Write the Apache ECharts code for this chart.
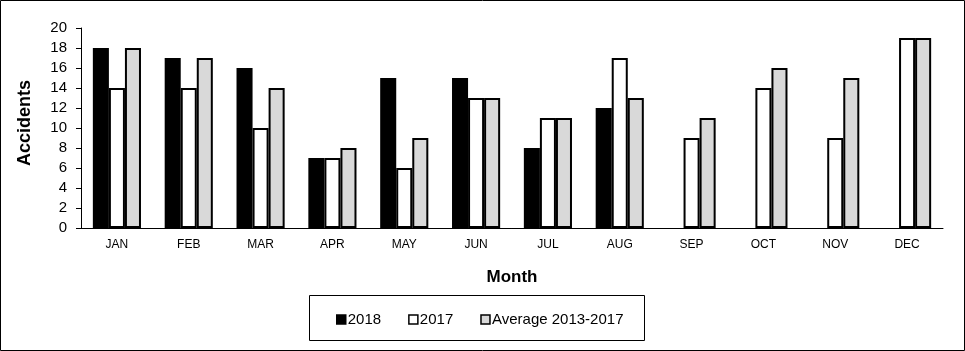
<!DOCTYPE html>
<html>
<head>
<meta charset="utf-8">
<script src="https://cdn.jsdelivr.net/npm/echarts@6/dist/echarts.min.js"></script>
<style>
  html, body { margin: 0; padding: 0; background: #fff; }
  #chart { width: 965px; height: 351px; }
</style>
</head>
<body>
<div id="chart"></div>
<script>
const months = ['JAN', 'FEB', 'MAR', 'APR', 'MAY', 'JUN', 'JUL', 'AUG', 'SEP', 'OCT', 'NOV', 'DEC']
const data2018 = [18, 17, 16, 7, 15, 15, 8, 12, '-', '-', '-', '-']
const data2017 = [14, 14, 10, 7, 6, 13, 11, 17, 9, 14, 9, 19]
const dataAvg = [18, 17, 14, 8, 9, 13, 11, 13, 11, 16, 15, 19]

const font = 'Liberation Sans, Arial, sans-serif'
const chart = echarts.init(document.getElementById('chart'))

const bar = (name, data, color) => ({
  name,
  type: 'bar',
  data,
  barGap: 0,
  barCategoryGap: '33%',
  itemStyle: { color, borderColor: '#000', borderWidth: 2 },
})

chart.setOption({
  animation: false,
  textStyle: { fontFamily: font, color: '#000' },
  graphic: [
    // outer frame
    { type: 'rect', shape: { x: 0.5, y: 0.5, width: 964, height: 350 }, style: { fill: 'none', stroke: '#000', lineWidth: 1 } },
    // legend frame
    { type: 'rect', shape: { x: 309.5, y: 295.5, width: 335, height: 45 }, style: { fill: 'none', stroke: '#000', lineWidth: 1 } },
  ],
  legend: {
    left: 331,
    top: 307,
    itemWidth: 9,
    itemHeight: 9,
    itemGap: 27,
    icon: 'rect',
    textStyle: { fontSize: 15, fontFamily: font, color: '#000', padding: [0, 0, 0, -3] },
    itemStyle: { borderWidth: 1.5 },
  },
  grid: { left: 81, right: 22, top: 28, bottom: 123 },
  xAxis: {
    type: 'category',
    data: months,
    name: 'Month',
    nameLocation: 'middle',
    nameGap: 41,
    nameTextStyle: { fontSize: 17, fontWeight: 'bold', color: '#000' },
    axisLine: { lineStyle: { color: '#000', width: 1 } },
    axisTick: { length: 5, lineStyle: { color: '#000' } },
    axisLabel: { fontSize: 12, color: '#000', margin: 11 },
  },
  yAxis: {
    type: 'value',
    min: 0,
    max: 20,
    interval: 2,
    name: 'Accidents',
    nameLocation: 'middle',
    nameGap: 47,
    nameTextStyle: { fontSize: 18, fontWeight: 'bold', color: '#000', padding: [0, 0, 0, 10] },
    axisLine: { show: true, lineStyle: { color: '#000', width: 1 } },
    axisTick: { show: true, length: 5, lineStyle: { color: '#000' } },
    axisLabel: { fontSize: 15, color: '#000', margin: 14 },
    splitLine: { show: false },
  },
  series: [
    bar('2018', data2018, '#000'),
    bar('2017', data2017, '#fff'),
    bar('Average 2013-2017', dataAvg, '#d9d9d9'),
  ],
})

window.addEventListener('resize', () => chart.resize())
</script>
</body>
</html>
